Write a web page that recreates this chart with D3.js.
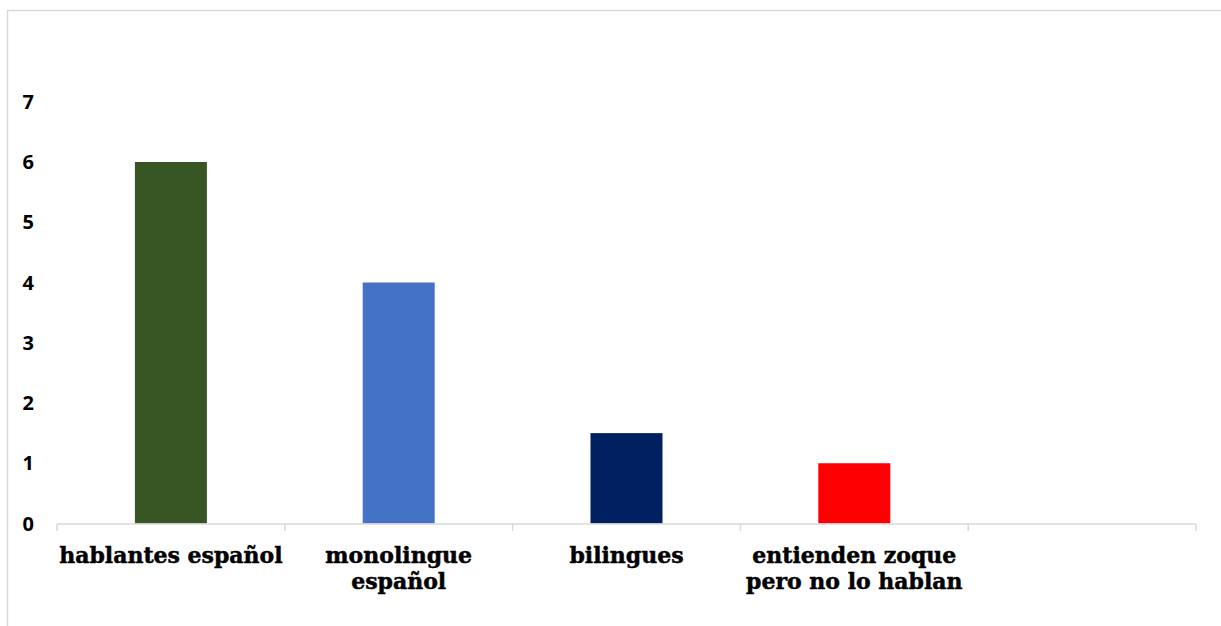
<!DOCTYPE html>
<html>
<head>
<meta charset="utf-8">
<script src="https://cdn.jsdelivr.net/npm/d3@7"></script>
<style>
  body { margin: 0; background: #fff; }
  svg { display: block; }
</style>
</head>
<body>
<svg id="vis"></svg>
<script>
// categories (line breaks as in the original chart), values, colours
var categories = ["hablantes español", "monolingue\nespañol", "bilingues", "entienden zoque\npero no lo hablan", ""];
var values = [6, 4, 1.5, 1, null];
var colors = ["#375623", "#4472C4", "#002060", "#FF0000", "#ffffff"];
var yTicks = [0, 1, 2, 3, 4, 5, 6, 7];

var vWidth = 1221, vHeight = 626;

var svg = d3.select("#vis")
  .attr("width", vWidth)
  .attr("height", vHeight);

// outer chart frame
svg.append("rect")
  .attr("x", 7.5).attr("y", 10.5)
  .attr("width", 1240).attr("height", 640)
  .attr("fill", "none")
  .attr("stroke", "#d9d9d9")
  .attr("stroke-width", 1.5);

var x = d3.scaleBand()
  .domain(d3.range(categories.length))
  .range([57, 1196])
  .padding(0);

var y = d3.scaleLinear()
  .domain([0, 7])
  .range([523.5, 101.75]);

var barW = x.bandwidth() * 0.316;

// bars
svg.selectAll("rect.bar")
  .data(values)
  .enter().append("rect")
  .attr("class", "bar")
  .filter(function(d) { return d != null; })
  .attr("x", function(d, i) { return x(i) + (x.bandwidth() - barW) / 2; })
  .attr("y", function(d) { return y(d); })
  .attr("width", barW)
  .attr("height", function(d) { return y(0) - y(d); })
  .attr("fill", function(d, i) { return colors[i]; });

// x axis line + ticks at band edges
var xAxis = svg.append("g");
xAxis.append("line")
  .attr("x1", x.range()[0]).attr("x2", x.range()[1])
  .attr("y1", 524).attr("y2", 524)
  .attr("stroke", "#d9d9d9").attr("stroke-width", 1.5);

var edges = d3.range(categories.length).map(function(i) { return x(i); }).concat([x.range()[1]]);
xAxis.selectAll("line.tick")
  .data(edges)
  .enter().append("line")
  .attr("class", "tick")
  .attr("x1", function(d) { return d; }).attr("x2", function(d) { return d; })
  .attr("y1", 524).attr("y2", 531)
  .attr("stroke", "#d9d9d9").attr("stroke-width", 1.5);

// category labels
svg.selectAll("text.cat")
  .data(categories)
  .enter().append("text")
  .attr("class", "cat")
  .attr("text-anchor", "middle")
  .style("font-family", "'DejaVu Serif', serif")
  .style("font-weight", "bold")
  .style("font-size", "22px")
  .style("fill", "#000")
  .style("stroke", "#000")
  .style("stroke-width", "0.5px")
  .each(function(d, i) {
    var t = d3.select(this);
    d.split("\n").forEach(function(line, k) {
      t.append("tspan")
        .attr("x", x(i) + x.bandwidth() / 2)
        .attr("y", 562.5 + k * 26.5)
        .text(line);
    });
  });

// y tick labels (no axis line)
svg.selectAll("text.ylab")
  .data(yTicks)
  .enter().append("text")
  .attr("class", "ylab")
  .attr("x", 34)
  .attr("y", function(d) { return y(d); })
  .attr("dy", "0.36em")
  .attr("text-anchor", "end")
  .style("font-family", "'Open Sans', sans-serif")
  .style("font-weight", "bold")
  .style("font-size", "20px")
  .style("fill", "#000")
  .text(function(d) { return d; });
</script>
</body>
</html>
